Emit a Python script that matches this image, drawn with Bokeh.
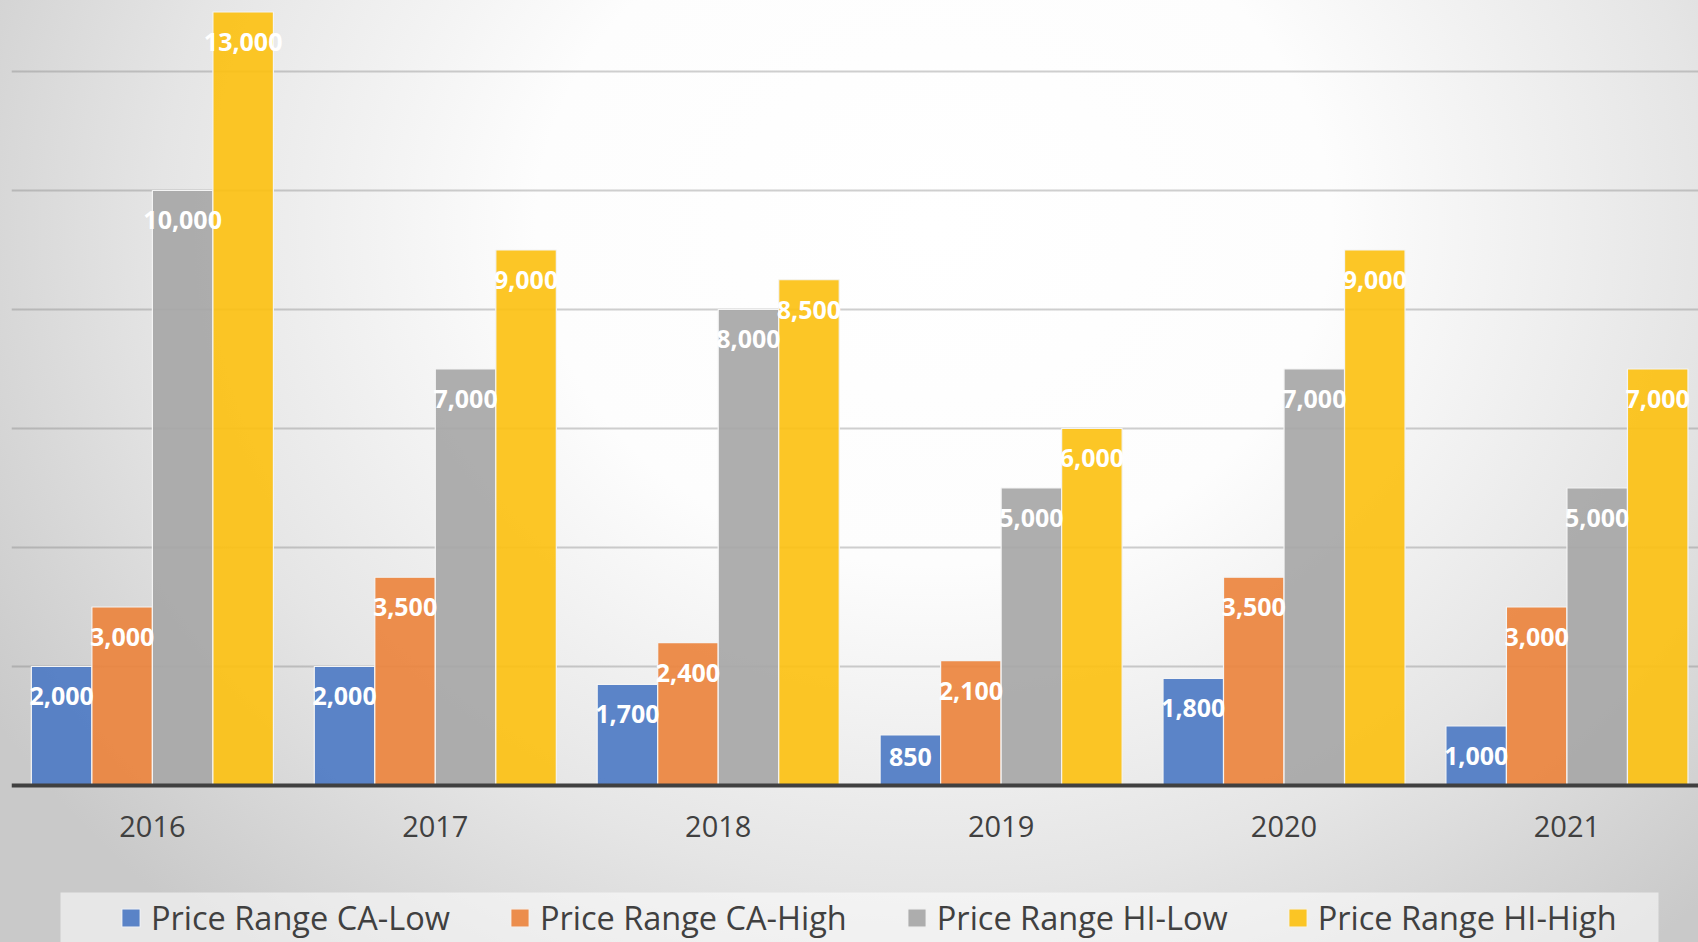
from bokeh.plotting import figure
from bokeh.models import (Range1d, FixedTicker, LabelSet, ColumnDataSource,
                          Legend, LegendItem, BoxAnnotation, Span)
from bokeh.core.properties import value
from bokeh.transform import dodge
from bokeh.embed import file_html
from bokeh.resources import INLINE

years = ["2016", "2017", "2018", "2019", "2020", "2021"]
ca_low = [2000, 2000, 1700, 850, 1800, 1000]
ca_high = [3000, 3500, 2400, 2100, 3500, 3000]
hi_low = [10000, 7000, 8000, 5000, 7000, 5000]
hi_high = [13000, 9000, 8500, 6000, 9000, 7000]
series_names = ["Price Range CA-Low", "Price Range CA-High",
                "Price Range HI-Low", "Price Range HI-High"]
colors = ["#4E7BC4", "#EB843E", "#A7A7A7", "#FCC113"]
grid_values = [2000, 4000, 6000, 8000, 10000, 12000]

# labels sit inside the bar end; very short bars keep the label inside the bar
label_floor = 975

idx = list(range(len(years)))
series = [ca_low, ca_high, hi_low, hi_high]
keys = ["ca_low", "ca_high", "hi_low", "hi_high"]
data = dict(idx=idx, years=years, zero=[0] * len(years))
for k, s in zip(keys, series):
    data[k] = s
    data[k + "_lbl"] = [f"{v:,}" for v in s]
    data[k + "_ly"] = [max(v, label_floor) for v in s]
src = ColumnDataSource(data)

p = figure(width=1698, height=942, output_backend="svg", toolbar_location=None,
           x_range=Range1d(-0.498, 5.465), y_range=Range1d(-2639, 13193),
           min_border_left=11, min_border_right=0, min_border_top=0,
           min_border_bottom=0)
p.styles = {
    "background-image": "radial-gradient(ellipse 65% 100% at 55% 24%, #ffffff 0%, #fdfdfd 36%, #e5e5e5 70%, #c9c9c9 100%)",
}
p.background_fill_alpha = 0
p.border_fill_alpha = 0
p.outline_line_color = None
p.xaxis.visible = False
p.yaxis.visible = False
p.xgrid.visible = False
p.ygrid.ticker = FixedTicker(ticks=grid_values)
p.ygrid.grid_line_color = "#808080"
p.ygrid.grid_line_alpha = 0.38
p.ygrid.grid_line_width = 2

w = 0.2139
offsets = [-1.5 * w, -0.5 * w, 0.5 * w, 1.5 * w]
renderers = []
for k, off, c in zip(keys, offsets, colors):
    r = p.vbar(x=dodge("idx", off, range=p.x_range), top=k, width=w, source=src,
               fill_color=c, fill_alpha=0.92, line_color="#F4F4F4", line_width=1.2)
    renderers.append(r)
    lbl = LabelSet(x=dodge("idx", off, range=p.x_range), y=k + "_ly", text=k + "_lbl",
                   source=src, text_align="center", text_baseline="middle",
                   y_offset=-30, text_color="white", text_font=value("Open Sans"),
                   text_font_style="bold", text_font_size="25px")
    p.add_layout(lbl)

# category axis: baseline and year labels
p.add_layout(Span(location=0, dimension="width", line_color="#404040", line_width=4))
year_lbl = LabelSet(x="idx", y="zero", text="years", source=src,
                    text_align="center", text_baseline="middle", y_offset=-41,
                    text_color="#404040", text_font=value("Open Sans"),
                    text_font_size="29px")
p.add_layout(year_lbl)

bg = BoxAnnotation(left=60, right=1658, top=892, bottom=None,
                   left_units="canvas", right_units="canvas", top_units="canvas",
                   fill_color="white", fill_alpha=0.55, line_color=None)
p.add_layout(bg)

legend = Legend(items=[LegendItem(label=n, renderers=[r]) for n, r in zip(series_names, renderers)],
                orientation="horizontal", location=(108, 2),
                label_text_font="Open Sans", label_text_font_size="32.5px",
                label_text_color="#404040", glyph_width=23, glyph_height=23,
                spacing=58, label_standoff=9, padding=0, margin=0,
                background_fill_alpha=0, border_line_color=None)
p.add_layout(legend, "center")

open("out.html", "w").write(file_html(p, INLINE))
